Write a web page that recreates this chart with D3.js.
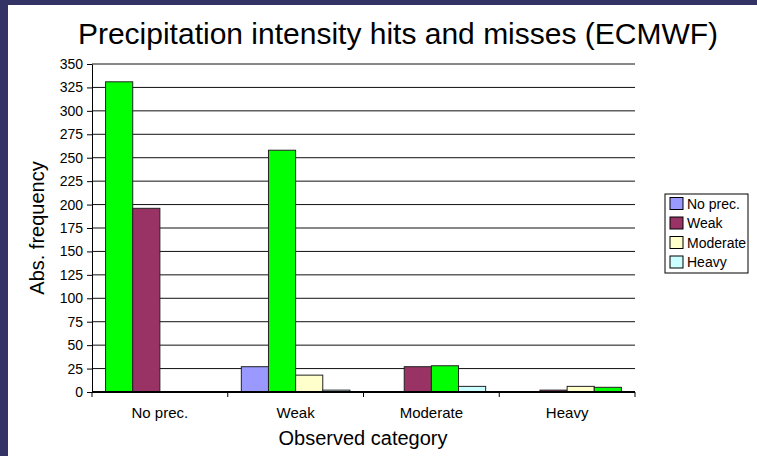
<!DOCTYPE html>
<html>
<head>
<meta charset="utf-8">
<script src="https://cdn.jsdelivr.net/npm/d3@7"></script>
<style>
  html, body { margin: 0; padding: 0; background: #fff; }
  svg { display: block; font-family: "Liberation Sans", Arial, sans-serif; }
</style>
</head>
<body>
<svg id="chart" width="757" height="456"></svg>
<script>
// Observed categories (x groups) and forecast categories (series)
const categories = ["No prec.", "Weak", "Moderate", "Heavy"];
const seriesNames = ["No prec.", "Weak", "Moderate", "Heavy"];
const seriesColors = ["#9999FF", "#993366", "#FFFFCC", "#CCFFFF"];
const hitColor = "#00FF00";

// Counts per forecast category, one value per observed category
const fcNoPrec   = [331, 27, 0, 0];
const fcWeak     = [196, 258, 27, 2];
const fcModerate = [0, 18, 28, 6];
const fcHeavy    = [0, 2, 6, 5];
const seriesValues = [fcNoPrec, fcWeak, fcModerate, fcHeavy];

const yTicks = d3.range(0, 351, 25);

const svg = d3.select("#chart");
const W = 757, H = 456;

// dark frame on the left and top
svg.append("rect").attr("x", 0).attr("y", 0).attr("width", W).attr("height", H).attr("fill", "#333366");
svg.append("rect").attr("x", 8).attr("y", 5).attr("width", W - 8).attr("height", H - 5).attr("fill", "#ffffff");

const plot = { left: 92, right: 635, top: 64, bottom: 392 };

const x0 = d3.scaleBand().domain(categories).range([plot.left, plot.right]).paddingInner(0).paddingOuter(0);
const x1 = d3.scaleBand().domain(seriesNames)
  .range([x0.bandwidth() * 0.1, x0.bandwidth() * 0.9]).padding(0);
const y = d3.scaleLinear().domain([0, 350]).range([plot.bottom, plot.top]);

// horizontal gridlines
svg.append("g").selectAll("line").data(yTicks.filter(d => d > 0)).join("line")
  .attr("x1", plot.left).attr("x2", plot.right)
  .attr("y1", d => y(d)).attr("y2", d => y(d))
  .attr("stroke", "#111").attr("stroke-width", 1);

// bars
const groups = svg.append("g").selectAll("g").data(categories).join("g")
  .attr("transform", c => `translate(${x0(c)},0)`);
groups.selectAll("rect")
  .data((c, ci) => seriesNames.map((s, si) => ({ s, si, ci, v: seriesValues[si][ci] })))
  .join("rect")
  .attr("x", d => x1(d.s))
  .attr("width", x1.bandwidth())
  .attr("y", d => y(d.v))
  .attr("height", d => y(0) - y(d.v))
  .attr("fill", d => d.si === d.ci ? hitColor : seriesColors[d.si])
  .attr("stroke", "#222")
  .attr("stroke-width", 1);

// y axis
const yAxis = d3.axisLeft(y).tickValues(yTicks).tickSize(5).tickPadding(4).tickSizeOuter(0);
const gy = svg.append("g").attr("transform", `translate(${plot.left},0)`).call(yAxis);
gy.select(".domain").attr("stroke", "#000");
gy.selectAll(".tick line").attr("stroke", "#000");
gy.selectAll(".tick text").attr("font-size", 14).attr("fill", "#000")
  .attr("font-family", "Liberation Sans, Arial, sans-serif");

// x axis with ticks at the group boundaries
const gx = svg.append("g").attr("transform", `translate(0,${plot.bottom})`);
gx.append("line").attr("x1", plot.left).attr("x2", plot.right).attr("y1", 0).attr("y2", 0)
  .attr("stroke", "#000").attr("stroke-width", 2);
const bounds = categories.map(c => x0(c)).concat([plot.right]);
gx.selectAll("line.tk").data(bounds).join("line").attr("class", "tk")
  .attr("x1", d => d).attr("x2", d => d).attr("y1", 0).attr("y2", 5)
  .attr("stroke", "#000");
gx.selectAll("text").data(categories).join("text")
  .attr("x", c => x0(c) + x0.bandwidth() / 2).attr("y", 26)
  .attr("text-anchor", "middle").attr("font-size", 15).text(c => c);

// titles
svg.append("text").attr("x", 398).attr("y", 44).attr("text-anchor", "middle")
  .attr("font-size", 30).text("Precipitation intensity hits and misses (ECMWF)");
svg.append("text").attr("x", 363).attr("y", 445).attr("text-anchor", "middle")
  .attr("font-size", 20).text("Observed category");
svg.append("text").attr("transform", "translate(44,228) rotate(-90)").attr("text-anchor", "middle")
  .attr("font-size", 20).text("Abs. frequency");

// legend
const lg = svg.append("g").attr("transform", "translate(665,194)");
lg.append("rect").attr("x", 0).attr("y", 0).attr("width", 83).attr("height", 79)
  .attr("fill", "#fff").attr("stroke", "#000");
const items = lg.selectAll("g").data(seriesNames).join("g")
  .attr("transform", (d, i) => `translate(5,${9.5 + i * 19.5})`);
items.append("rect").attr("x", 0).attr("y", -6).attr("width", 13).attr("height", 12)
  .attr("fill", (d, i) => seriesColors[i]).attr("stroke", "#000");
items.append("text").attr("x", 17).attr("y", 5).attr("font-size", 14).text(d => d);
</script>
</body>
</html>
